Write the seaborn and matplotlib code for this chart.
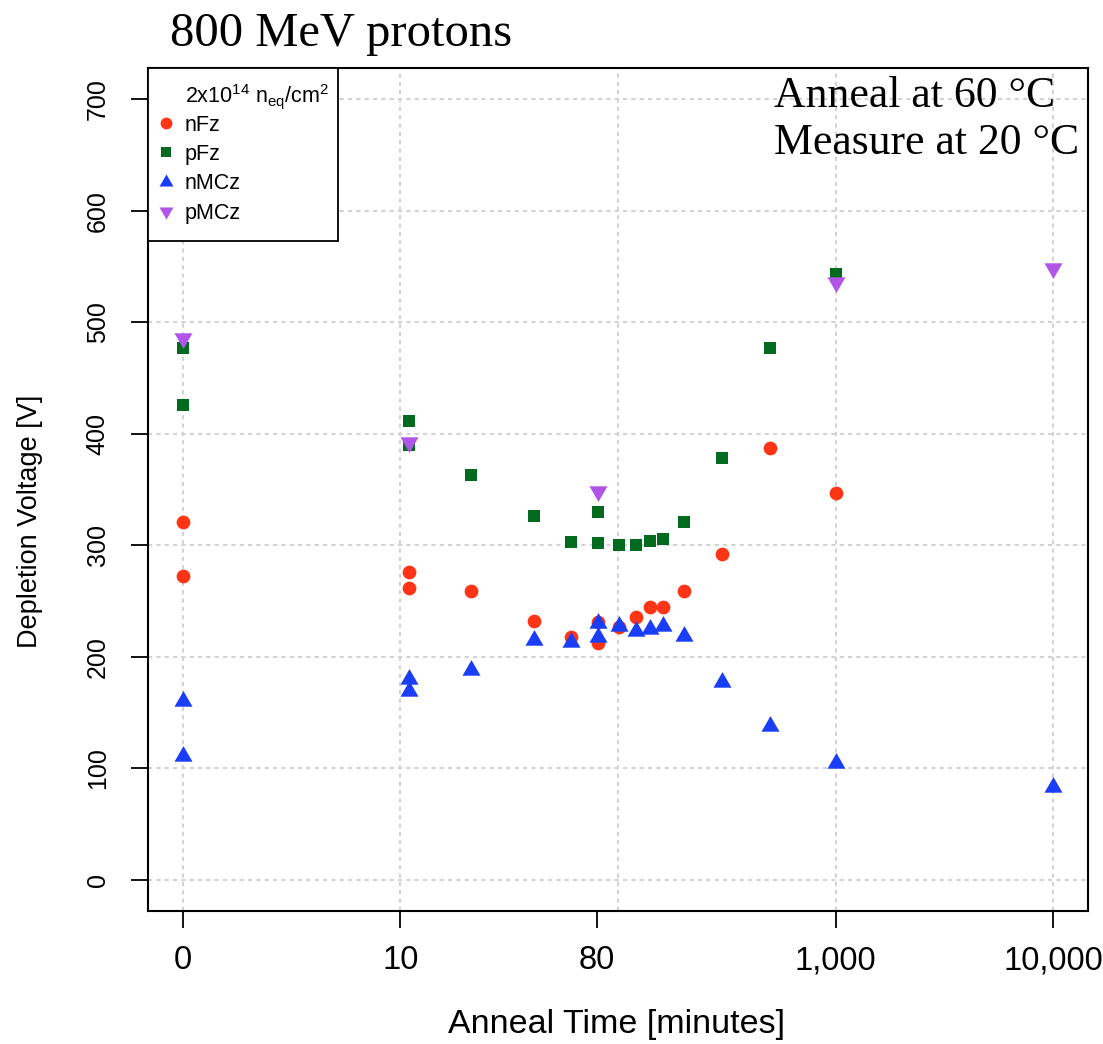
import numpy as np
import pandas as pd
import matplotlib
matplotlib.use("Agg")
import matplotlib.pyplot as plt
from matplotlib.lines import Line2D
import seaborn as sns

# ---- data (anneal time in minutes, depletion voltage in V) ----
nfz_t = [0, 0, 10, 10, 20, 40, 60, 80, 80, 100, 120, 140, 160, 200, 300, 500, 1000]
nfz_v = [321, 272, 276, 262, 259, 232, 218, 231, 212, 227, 236, 245, 245, 259, 292, 387, 347]

pfz_t = [0, 0, 10, 10, 20, 40, 60, 80, 80, 100, 120, 140, 160, 200, 300, 500, 1000]
pfz_v = [477, 426, 411, 390, 363, 326, 303, 330, 302, 300, 300, 304, 306, 321, 378, 477, 543]

nmcz_t = [0, 0, 10, 10, 20, 40, 60, 80, 80, 100, 120, 140, 160, 200, 300, 500, 1000, 10000]
nmcz_v = [160, 111, 180, 169, 188, 215, 213, 230, 218, 228, 223, 225, 228, 219, 177, 138, 105, 83]

pmcz_t = [0, 10, 80, 1000, 10000]
pmcz_v = [486, 393, 349, 536, 549]

series_names = ["nFz", "pFz", "nMCz", "pMCz"]
legend_title = r"2x10$^{14}$ n$_{eq}$/cm$^{2}$"
xtick_pos = [0, 9, 79, 999, 9999]
xtick_labels = ["0", "10", "80", "1,000", "10,000"]
xgrid_pos = [0, 9, 99, 999, 9999]
yticks = [0, 100, 200, 300, 400, 500, 600, 700]

sns.set_style("white")
plt.rcParams["font.family"] = ["Liberation Sans", "DejaVu Sans"]
plt.rcParams["mathtext.fontset"] = "custom"
plt.rcParams["mathtext.rm"] = "Liberation Sans"
plt.rcParams["mathtext.default"] = "regular"
for key in ["text.color", "axes.labelcolor", "xtick.color", "ytick.color"]:
    plt.rcParams[key] = "black"

colors = {"nFz": "#FF3516", "pFz": "#006B1E", "nMCz": "#1A3EF7", "pMCz": "#B055E8"}
tri_up = [(0.0, 1.0), (-0.866, -0.5), (0.866, -0.5)]
tri_dn = [(0.0, -1.0), (-0.866, 0.5), (0.866, 0.5)]
markers = {"nFz": "o", "pFz": "s", "nMCz": tri_up, "pMCz": tri_dn}
sizes = {"nFz": 98, "pFz": 80, "nMCz": 225, "pMCz": 225}

frames = []
for name, t, v in [("nFz", nfz_t, nfz_v), ("pFz", pfz_t, pfz_v),
                   ("nMCz", nmcz_t, nmcz_v), ("pMCz", pmcz_t, pmcz_v)]:
    frames.append(pd.DataFrame({"time": t, "volt": v, "series": name}))
df = pd.concat(frames, ignore_index=True)

W, H = 1103, 1044
AX_L, AX_R, AX_T, AX_B = 148, 1088, 68, 911
fig = plt.figure(figsize=(W / 100, H / 100), dpi=100)
ax = fig.add_axes([AX_L / W, 1 - AX_B / H, (AX_R - AX_L) / W, (AX_B - AX_T) / H])

fwd = lambda x: np.log10(np.maximum(np.asarray(x, dtype=float) + 1.0, 1e-12))
inv = lambda y: 10.0 ** np.asarray(y, dtype=float) - 1.0
ax.set_xscale("function", functions=(fwd, inv))

for name in series_names:
    sub = df[df["series"] == name]
    sns.scatterplot(data=sub, x="time", y="volt", ax=ax, color=colors[name],
                    marker=markers[name], s=sizes[name], linewidth=0,
                    legend=False, zorder=3)

ax.set_xlim(10 ** -0.16 - 1, 10 ** 4.16 - 1)
ax.set_ylim(-28, 728)

# ticks and grid
ax.xaxis.remove_overlapping_locs = False
ax.set_xticks(xtick_pos)
ax.set_xticklabels(xtick_labels)
ax.set_xticks(xgrid_pos, minor=True)
ax.set_yticks(yticks)
ax.set_yticklabels([str(v) for v in yticks])
ax.grid(False)
ax.grid(True, which="minor", axis="x", color="#D3D3D3", linestyle=(0, (2, 2)), linewidth=1.5, zorder=0)
ax.grid(True, which="major", axis="y", color="#D3D3D3", linestyle=(0, (2, 2)), linewidth=1.5, zorder=0)
ax.set_axisbelow(True)

ax.tick_params(axis="x", which="minor", length=0)
ax.tick_params(axis="x", which="major", direction="out", length=12.5, width=1.3,
               labelsize=23.5, pad=12, color="black", labelcolor="black", bottom=True)
ax.tick_params(axis="y", which="major", direction="out", length=12.5, width=1.3,
               labelsize=18, pad=15, labelrotation=90, color="black", labelcolor="black", left=True)
for lab in ax.get_yticklabels():
    lab.set_va("center")

for sp in ax.spines.values():
    sp.set_visible(True)
    sp.set_color("black")
    sp.set_linewidth(1.5)

ax.set_xlabel("")
ax.set_ylabel("")
fig.text(616 / W, 1 - 1025 / H, "Anneal Time [minutes]", ha="center", va="center",
         fontsize=24.5, color="black")
fig.text(30 / W, 1 - 521 / H, "Depletion Voltage [V]", ha="center", va="center",
         rotation=90, fontsize=19.5, color="black")

# title and annotations
fig.text(170 / W, 1 - 46 / H, "800 MeV protons", ha="left", va="baseline",
         fontsize=35, family="Liberation Serif", color="black")
fig.text(774 / W, 1 - 107 / H, "Anneal at 60 °C", ha="left", va="baseline",
         fontsize=31.5, family="Liberation Serif", color="black")
fig.text(774 / W, 1 - 154 / H, "Measure at 20 °C", ha="left", va="baseline",
         fontsize=31.5, family="Liberation Serif", color="black")

# legend (first row holds the fluence line)
handles = [Line2D([], [], linestyle="none", marker=None)]
labels = [" "]
msz = {"nFz": 8.5, "pFz": 7.5, "nMCz": 11.6, "pMCz": 11.6}
for name in series_names:
    handles.append(Line2D([], [], linestyle="none", marker=markers[name],
                          markersize=msz[name], markerfacecolor=colors[name],
                          markeredgewidth=0, color=colors[name]))
    labels.append(name)
leg_w = (338 - AX_L) / (AX_R - AX_L)
leg = ax.legend(handles, labels, loc="upper left", bbox_to_anchor=(0, 0, leg_w, 1),
                mode="expand", borderaxespad=0, fontsize=15.5, frameon=True,
                fancybox=False, edgecolor="black", framealpha=1, handlelength=0.1,
                handletextpad=0.78, labelspacing=0.39, borderpad=0.8)
frame = leg.get_frame()
frame.set_linewidth(1.3)
frame.set_facecolor((1, 1, 1, 0))
frame.set_edgecolor((0, 0, 0, 1))
ax.text((185 - AX_L) / (AX_R - AX_L), (AX_B - 97) / (AX_B - AX_T), legend_title,
        transform=ax.transAxes, ha="left", va="center", fontsize=15.5,
        color="black", zorder=10)

fig.savefig("out.png", dpi=100, facecolor="white")
